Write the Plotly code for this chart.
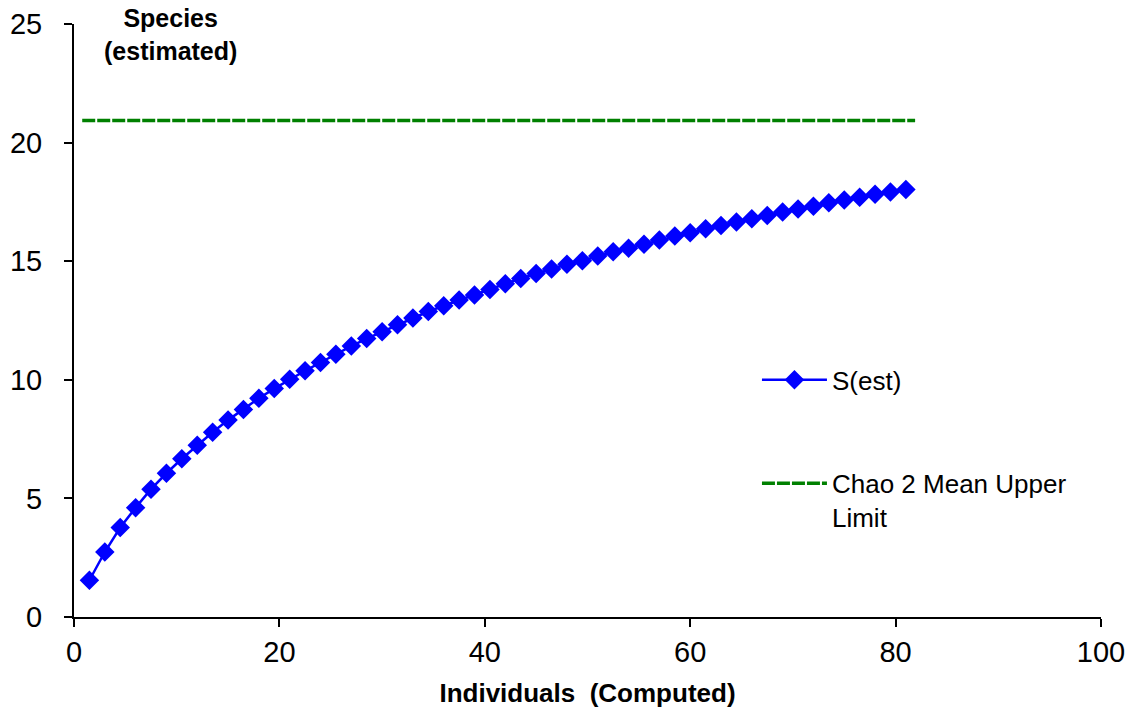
import plotly.graph_objects as go

# Data
individuals = [1.5 * (i + 1) for i in range(54)]
s_est = [1.55, 2.74, 3.77, 4.61, 5.39, 6.06, 6.67, 7.24, 7.79, 8.30,
         8.75, 9.22, 9.63, 10.02, 10.38, 10.73, 11.08, 11.42, 11.74, 12.03,
         12.32, 12.61, 12.88, 13.12, 13.36, 13.58, 13.81, 14.05, 14.27, 14.48,
         14.67, 14.87, 15.02, 15.22, 15.40, 15.55, 15.71, 15.89, 16.06, 16.20,
         16.37, 16.51, 16.65, 16.79, 16.93, 17.07, 17.20, 17.32, 17.46, 17.58,
         17.70, 17.82, 17.92, 18.02]
chao_x = [0.8, 81.9]
chao_upper = [20.93, 20.93]

x_ticks = [0, 20, 40, 60, 80, 100]
y_ticks = [0, 5, 10, 15, 20, 25]

FONT = "Liberation Sans, Arial, sans-serif"

fig = go.Figure()
fig.add_trace(go.Scatter(
    x=chao_x, y=chao_upper, mode="lines", name="Chao 2 Mean Upper<br>Limit",
    line=dict(color="#008000", width=3.5, dash="13px,2px"),
    legend="legend2", showlegend=True,
))
fig.add_trace(go.Scatter(
    x=individuals, y=s_est, mode="lines+markers", name="S(est)",
    line=dict(color="#0000FF", width=2.5),
    marker=dict(symbol="diamond", size=15, color="#0000FF"),
    legend="legend", showlegend=True,
))

axis_common = dict(
    showline=True, linecolor="black", linewidth=2, mirror=False,
    ticks="outside", ticklen=8, tickwidth=2, tickcolor="black",
    showgrid=False, zeroline=False, automargin=False,
    ticklabeloverflow="allow",
    tickfont=dict(family=FONT, size=29, color="black"),
)

fig.update_layout(
    width=1132, height=711,
    margin=dict(l=74, r=31, t=24, b=94, autoexpand=False),
    showlegend=True,
    paper_bgcolor="white", plot_bgcolor="white",
    font=dict(family=FONT, color="black"),
    xaxis=dict(range=[0, 100], tickvals=x_ticks, **axis_common,
               title=dict(text="<b>Individuals  (Computed)</b>",
                          font=dict(family=FONT, size=26, color="black"),
                          standoff=17)),
    yaxis=dict(range=[0, 25], tickvals=y_ticks, ticklabelstandoff=16,
               **axis_common),
    legend=dict(x=0.665, y=0.40, xanchor="left", yanchor="middle",
                font=dict(family=FONT, size=26, color="black"),
                bgcolor="rgba(0,0,0,0)", itemwidth=65),
    legend2=dict(x=0.665, y=0.265, xanchor="left", yanchor="top",
                 font=dict(family=FONT, size=26, color="black"),
                 bgcolor="rgba(0,0,0,0)", itemwidth=65, valign="top"),
    annotations=[dict(
        text="<b>Species<br>(estimated)</b>", xref="paper", yref="paper",
        x=0.0935, y=0.983, xanchor="center", yanchor="middle", showarrow=False,
        font=dict(family=FONT, size=25, color="black"),
    )],
)

fig.write_html(
    "out.html",
    config={"displayModeBar": False},
    post_script="document.body.style.margin='0';document.body.style.overflow='hidden';",
)
